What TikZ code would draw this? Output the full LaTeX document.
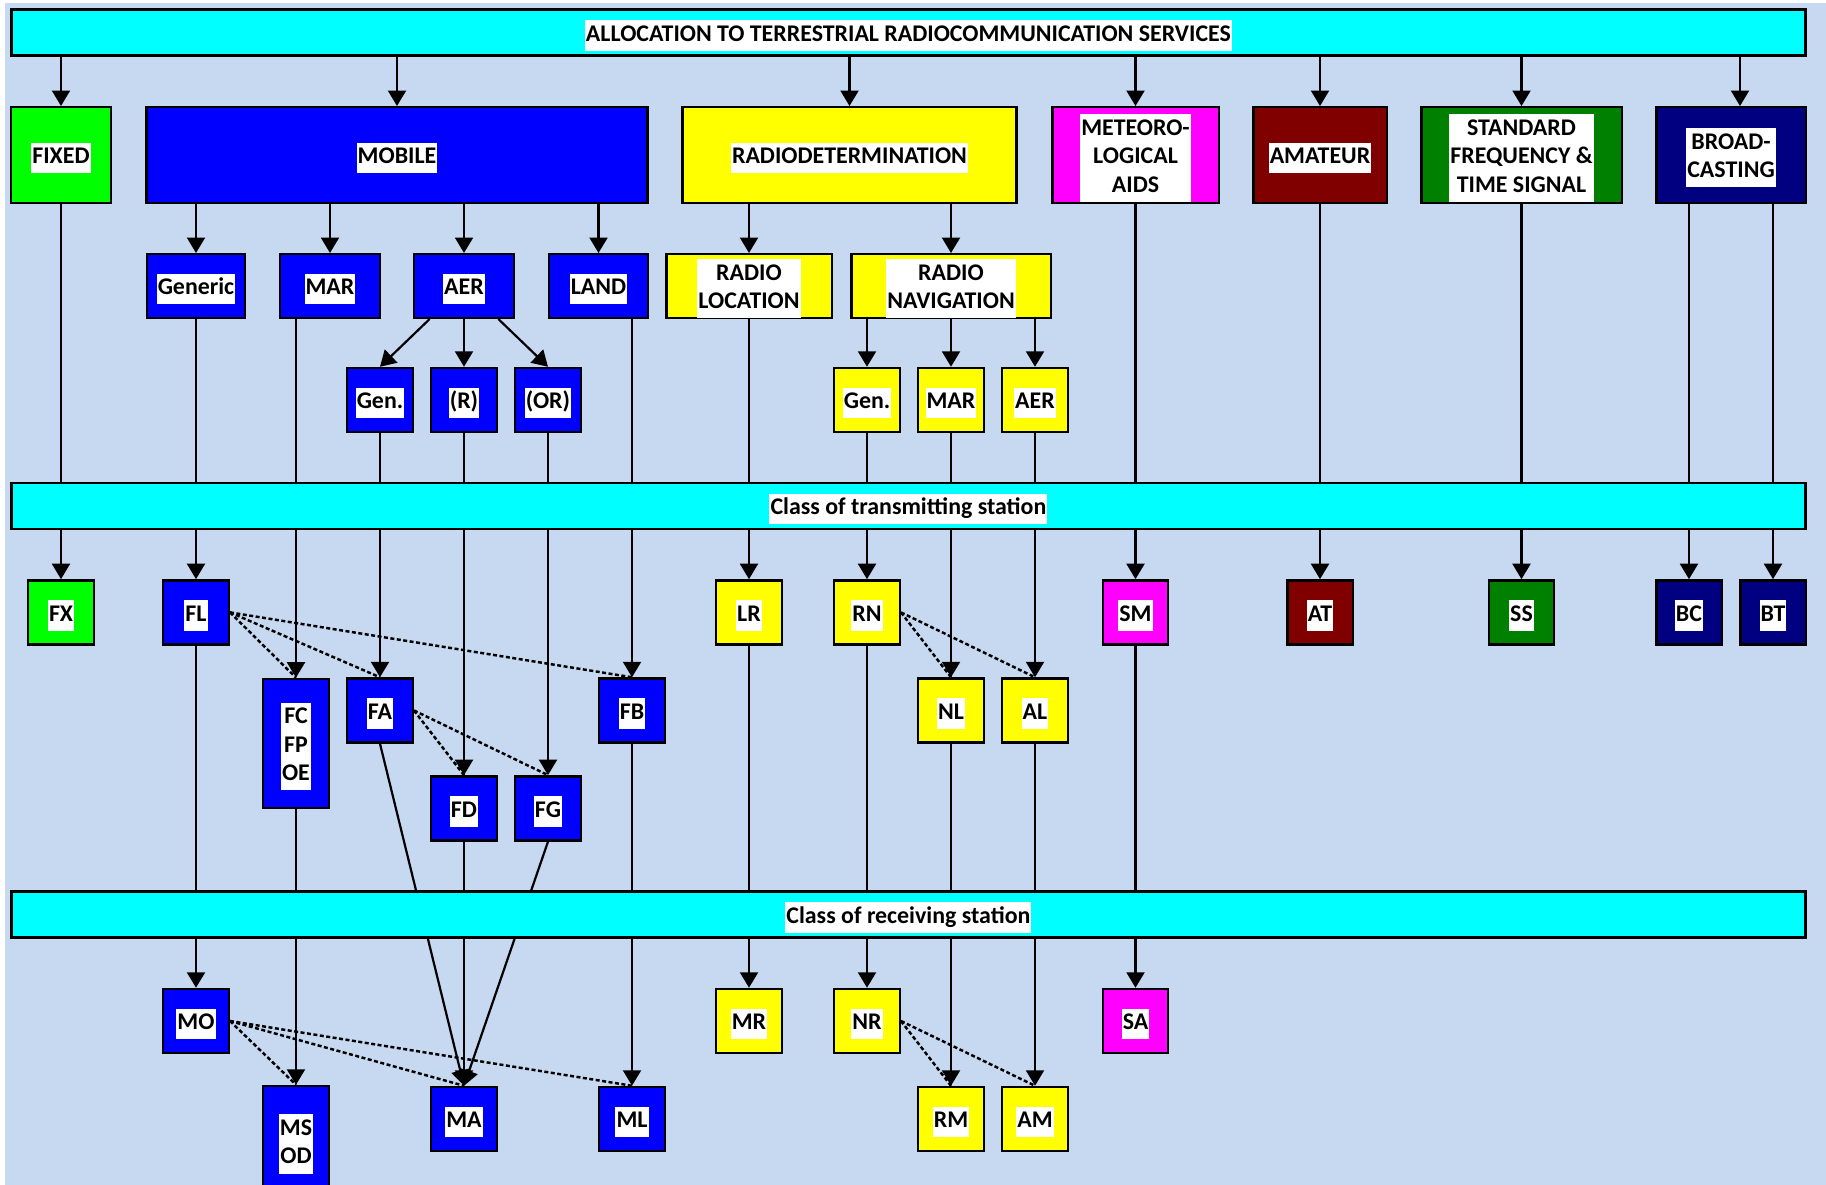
\documentclass[tikz,border=0pt]{standalone}
\usepackage{fontspec}
\setmainfont{Carlito}
\usetikzlibrary{arrows.meta}

\definecolor{paperblue}{RGB}{198,217,241}
\definecolor{barcyan}{RGB}{0,255,255}
\definecolor{fixgreen}{RGB}{0,255,0}
\definecolor{mobblue}{RGB}{0,0,255}
\definecolor{detyellow}{RGB}{255,255,0}
\definecolor{metmagenta}{RGB}{255,0,255}
\definecolor{amtmaroon}{RGB}{128,0,0}
\definecolor{sfgreen}{RGB}{0,128,0}
\definecolor{bcnavy}{RGB}{0,0,128}

\pgfdeclarelayer{paper}
\pgfdeclarelayer{wires}
\pgfsetlayers{paper,wires,main}

\newcommand{\hilite}[1]{\raisebox{-1.7pt}[\height][\depth]{\setlength{\fboxsep}{0.6pt}\colorbox{white}{\begin{tabular}{@{}c@{}}#1\end{tabular}}}}

\begin{document}
\begin{tikzpicture}[
  x=0.02cm, y=-0.02cm,
  every node/.style={font=\fontsize{13.6}{16.2}\selectfont\bfseries},
  bar/.style={rectangle, draw=black, line width=1.4pt, fill=barcyan,
    minimum width=35.89cm, minimum height=0.92cm, inner sep=0pt},
  svc/.style={rectangle, draw=black, line width=1.4pt, minimum height=1.91cm, inner sep=0pt},
  sub/.style={rectangle, draw=black, line width=1.4pt, minimum height=1.27cm, inner sep=0pt},
  cls/.style={rectangle, draw=black, line width=1.4pt, minimum width=1.31cm,
    minimum height=1.28cm, inner sep=0pt},
  arrow/.style={-{Triangle[length=0.31cm, width=0.36cm]}, line width=1.25pt, black},
  hint/.style={line width=1.4pt, black, dash pattern=on 0.08cm off 0.05cm}
]

% === Paper ===
\useasboundingbox (0,0) rectangle (1826,1185);
\begin{pgfonlayer}{paper}
  \fill[white] (0,0) rectangle (1826,1185);
  \fill[paperblue] (4.5,3.3) rectangle (1826,1185);
\end{pgfonlayer}

% === Allocation bar ===
\node[bar] (alloc) at (908.4,32.5) {\hilite{ALLOCATION TO TERRESTRIAL RADIOCOMMUNICATION SERVICES}};

% === Services ===
\node[svc, fill=fixgreen, minimum width=1.99cm] (fixed) at (61,155) {\hilite{FIXED}};
\node[svc, fill=mobblue, minimum width=10.03cm] (mobile) at (397,155) {\hilite{MOBILE}};
\node[svc, fill=detyellow, minimum width=6.69cm] (radiodet) at (849.5,155) {\hilite{RADIODETERMINATION}};
\node[svc, fill=metmagenta, minimum width=3.33cm] (meteo) at (1135.5,155) {\hilite{METEORO-\\LOGICAL\\AIDS}};
\node[svc, fill=amtmaroon, minimum width=2.67cm] (amateur) at (1320,155) {\hilite{AMATEUR}};
\node[svc, fill=sfgreen, minimum width=4.01cm] (stdfreq) at (1521.5,155) {\hilite{STANDARD\\FREQUENCY \&\\TIME SIGNAL}};
\node[svc, fill=bcnavy, minimum width=2.99cm] (broad) at (1731,155) {\hilite{BROAD-\\CASTING}};

% === Sub-services ===
\node[sub, fill=mobblue, minimum width=1.97cm] (generic) at (196,286) {\hilite{Generic}};
\node[sub, fill=mobblue, minimum width=1.99cm] (mar) at (330,286) {\hilite{MAR}};
\node[sub, fill=mobblue, minimum width=1.99cm] (aer) at (464,286) {\hilite{AER}};
\node[sub, fill=mobblue, minimum width=1.97cm] (land) at (598.5,286) {\hilite{LAND}};
\node[sub, fill=detyellow, minimum width=3.31cm] (radloc) at (749,286) {\hilite{RADIO\\LOCATION}};
\node[sub, fill=detyellow, minimum width=3.99cm] (radnav) at (951,286) {\hilite{RADIO\\NAVIGATION}};

\node[cls, fill=mobblue] (gena) at (380,400) {\hilite{Gen.}};
\node[cls, fill=mobblue] (rr) at (464,400) {\hilite{(R)}};
\node[cls, fill=mobblue] (orr) at (548,400) {\hilite{(OR)}};
\node[cls, fill=detyellow] (ngen) at (867,400) {\hilite{Gen.}};
\node[cls, fill=detyellow] (nmar) at (951,400) {\hilite{MAR}};
\node[cls, fill=detyellow] (naer) at (1035,400) {\hilite{AER}};

% === Transmitting stations ===
\node[bar] (trans) at (908.4,506) {\hilite{Class of transmitting station}};

\node[cls, fill=fixgreen] (fx) at (61,612.4) {\hilite{FX}};
\node[cls, fill=mobblue] (fl) at (196,612.4) {\hilite{FL}};
\node[cls, fill=detyellow] (lr) at (749,612.4) {\hilite{LR}};
\node[cls, fill=detyellow] (rn) at (867,612.4) {\hilite{RN}};
\node[cls, fill=metmagenta] (sm) at (1135.5,612.4) {\hilite{SM}};
\node[cls, fill=amtmaroon] (ats) at (1320,612.4) {\hilite{AT}};
\node[cls, fill=sfgreen] (ss) at (1521.5,612.4) {\hilite{SS}};
\node[cls, fill=bcnavy] (bc) at (1689,612.4) {\hilite{BC}};
\node[cls, fill=bcnavy] (bt) at (1773,612.4) {\hilite{BT}};

\node[cls, fill=mobblue, minimum height=2.58cm] (fcfp) at (296,743.4) {\hilite{FC\\FP\\OE}};
\node[cls, fill=mobblue] (fa) at (380,710.5) {\hilite{FA}};
\node[cls, fill=mobblue] (fb) at (632,710.5) {\hilite{FB}};
\node[cls, fill=detyellow] (nl) at (951,710.5) {\hilite{NL}};
\node[cls, fill=detyellow] (al) at (1035,710.5) {\hilite{AL}};
\node[cls, fill=mobblue] (fd) at (464,808.4) {\hilite{FD}};
\node[cls, fill=mobblue] (fg) at (548,808.4) {\hilite{FG}};

% === Receiving stations ===
\node[bar] (recv) at (908.4,914.5) {\hilite{Class of receiving station}};

\node[cls, fill=mobblue] (mo) at (196,1021) {\hilite{MO}};
\node[cls, fill=detyellow] (mr) at (749,1021) {\hilite{MR}};
\node[cls, fill=detyellow] (nr) at (867,1021) {\hilite{NR}};
\node[cls, fill=metmagenta] (sa) at (1135.5,1021) {\hilite{SA}};

\node[cls, fill=mobblue, minimum height=2.2cm] (msod) at (296,1141) {\hilite{MS\\OD}};
\node[cls, fill=mobblue] (ma) at (464,1119) {\hilite{MA}};
\node[cls, fill=mobblue] (ml) at (632,1119) {\hilite{ML}};
\node[cls, fill=detyellow] (rm) at (951,1119) {\hilite{RM}};
\node[cls, fill=detyellow] (am) at (1035,1119) {\hilite{AM}};

% === Connectors (under the boxes and bars) ===
\begin{pgfonlayer}{wires}
  \foreach \s in {fixed,mobile,radiodet,meteo,amateur,stdfreq}
    \draw[arrow] (alloc.south -| \s) -- (\s);
  \draw[arrow] ([xshift=0.18cm]broad.north |- alloc.south) -- ([xshift=0.18cm]broad.north);
  \foreach \a/\b in {mobile/generic, mobile/mar, mobile/aer, mobile/land,
                     radiodet/radloc, radiodet/radnav,
                     radnav/ngen, radnav/nmar, radnav/naer}
    \draw[arrow] (\a.south -| \b) -- (\b);
  \draw[arrow] (aer) -- (gena.north);
  \draw[arrow] (aer) -- (rr);
  \draw[arrow] (aer) -- (orr.north);

  % through the transmitting bar
  \foreach \a/\b in {fixed/fx, generic/fl, mar/fcfp, gena/fa, rr/fd, orr/fg, land/fb,
                     radloc/lr, ngen/rn, nmar/nl, naer/al, meteo/sm, amateur/ats,
                     stdfreq/ss, broad/bc, broad/bt}
    \draw[arrow] (\a.south -| \b) -- (\b);

  % through the receiving bar
  \foreach \a/\b in {fl/mo, fcfp/msod, fd/ma, fb/ml, lr/mr, rn/nr, nl/rm, al/am, sm/sa}
    \draw[arrow] (\a.south -| \b) -- (\b);
  \draw[arrow] (fa.south) -- (ma.north);
  \draw[arrow] (fg.south) -- (ma.north);

  % dotted hints
  \foreach \b in {fcfp,fa,fb} \draw[hint] (fl.east) -- (\b.north);
  \foreach \b in {fd,fg} \draw[hint] (fa.east) -- (\b.north);
  \foreach \b in {nl,al} \draw[hint] (rn.east) -- (\b.north);
  \foreach \b in {msod,ma,ml} \draw[hint] (mo.east) -- (\b.north);
  \foreach \b in {rm,am} \draw[hint] (nr.east) -- (\b.north);
\end{pgfonlayer}

\end{tikzpicture}
\end{document}
